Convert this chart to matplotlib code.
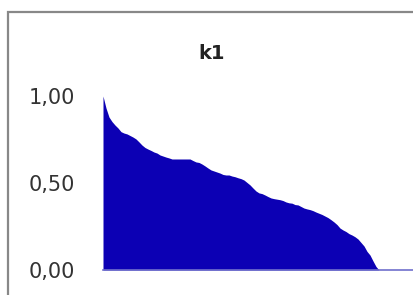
import matplotlib
matplotlib.use('Agg')
import matplotlib.pyplot as plt
from matplotlib.patches import Rectangle

# k1 values, sorted descending, trailing zeros to the axis end
k1_values = [
    1.000, 0.931, 0.879, 0.853, 0.833, 0.816, 0.795, 0.787, 0.782, 0.773,
    0.764, 0.753, 0.736, 0.718, 0.704, 0.695, 0.687, 0.678, 0.672, 0.661,
    0.655, 0.649, 0.644, 0.638, 0.638, 0.638, 0.638, 0.638, 0.638, 0.638,
    0.629, 0.621, 0.618, 0.609, 0.598, 0.586, 0.575, 0.569, 0.563, 0.557,
    0.549, 0.546, 0.546, 0.540, 0.536, 0.530, 0.525, 0.517, 0.503, 0.489,
    0.471, 0.454, 0.443, 0.439, 0.431, 0.422, 0.414, 0.410, 0.407, 0.404,
    0.399, 0.391, 0.386, 0.384, 0.376, 0.374, 0.365, 0.356, 0.351, 0.347,
    0.341, 0.333, 0.326, 0.319, 0.310, 0.301, 0.289, 0.276, 0.261, 0.241,
    0.230, 0.221, 0.209, 0.201, 0.191, 0.178, 0.158, 0.138, 0.107, 0.086,
    0.052, 0.020,
    0, 0, 0, 0, 0, 0, 0, 0, 0, 0, 0, 0, 0, 0, 0, 0, 0, 0,
]
y_ticks = [0.0, 0.5, 1.0]
y_tick_labels = ['0,00', '0,50', '1,00']
title = 'k1'

W, H = 414, 295
fig = plt.figure(figsize=(W / 100, H / 100), dpi=100)

# chart border (the chart frame is cut off at the right and bottom)
fig.patches.append(Rectangle((8 / W, -0.1), 1.2, (H - 12) / H + 0.1,
                             transform=fig.transFigure, fill=False,
                             edgecolor='#888888', linewidth=1.6))

left, right = 103, 430
bottom, top = 270, 96
ax = fig.add_axes([left / W, (H - bottom) / H, (right - left) / W, (bottom - top) / H])

x = list(range(len(k1_values)))
ax.fill_between(x, 0, k1_values, color='#0c00b4', linewidth=0)

ax.set_xlim(0, len(k1_values) - 1)
ax.set_ylim(0, 1)
ax.set_yticks(y_ticks)
ax.set_yticklabels(y_tick_labels)
ax.set_xticks([])
ax.tick_params(axis='y', length=0, pad=20, labelsize=15, labelcolor='#333333')
for s in ['top', 'right', 'left']:
    ax.spines[s].set_visible(False)
ax.spines['bottom'].set_color('#7070cc')
ax.spines['bottom'].set_linewidth(1.2)
ax.set_facecolor('none')

fig.text(212 / W, (H - 53) / H, title, ha='center', va='center',
         fontsize=14, fontweight='bold', color='#222222')

fig.savefig('out.png', dpi=100)
